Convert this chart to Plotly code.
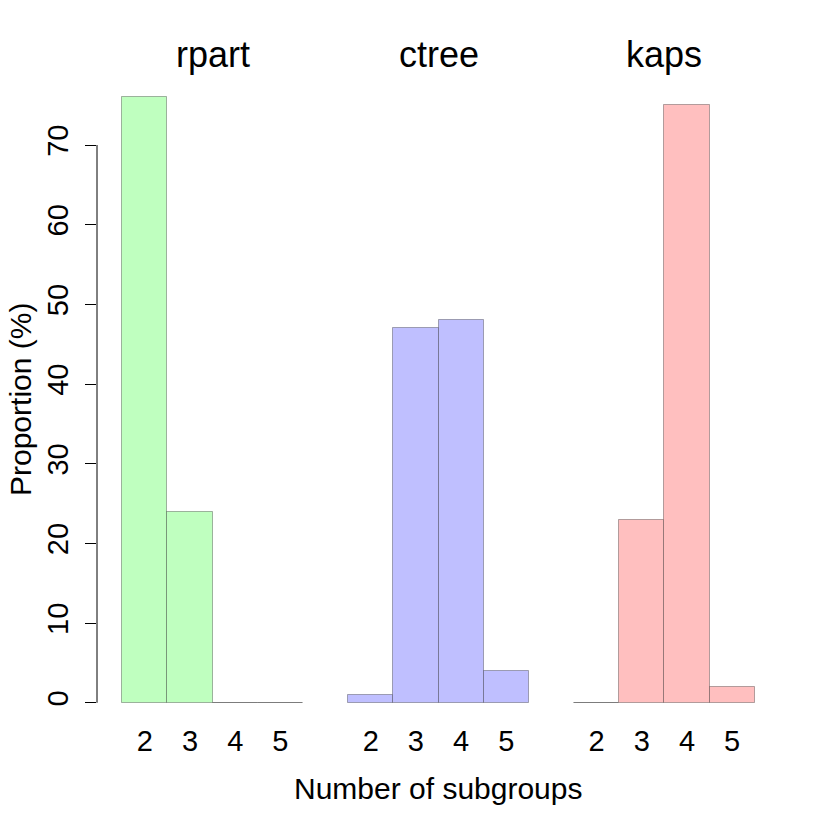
import plotly.graph_objects as go

methods = ["rpart", "ctree", "kaps"]
subgroups = ["2", "3", "4", "5"]
rpart = [76, 24, 0, 0]
ctree = [1, 47, 48, 4]
kaps = [0, 23, 75, 2]
fills = ["rgb(191,255,191)", "rgb(191,191,255)", "rgb(255,191,191)"]

# page body adds ~8px offset, so figure is a bit smaller than the window
W, H = 822, 822
L, R, T, B = 89, 50, 65, 103
FONT = "Liberation Sans, Arial, sans-serif"

fig = go.Figure()

tickvals, ticktext = [], []
for g, (name, vals) in enumerate(zip(methods, [rpart, ctree, kaps])):
    xs = [g * 5 + j + 0.5 for j in range(len(subgroups))]
    tickvals += xs
    ticktext += subgroups
    fig.add_trace(go.Bar(
        x=xs, y=vals, width=1,
        marker=dict(color=fills[g], line=dict(color="rgba(0,0,0,0.3)", width=1)),
        showlegend=False,
    ))
    fig.add_annotation(x=g * 5 + 2, y=1, xref="x", yref="paper", yshift=19,
                       text=name, showarrow=False, yanchor="middle",
                       font=dict(size=36, color="black"))

nb = 3 * 5 - 1
pad = 0.04 * nb
ymax = max(rpart + ctree + kaps)
ypad = 0.04 * ymax

fig.update_layout(
    width=W, height=H,
    margin=dict(l=L, r=R, t=T, b=B),
    plot_bgcolor="white", paper_bgcolor="white",
    font=dict(family=FONT, size=29, color="black"),
    bargap=0,
    xaxis=dict(range=[-pad, nb + pad], tickvals=tickvals, ticktext=ticktext,
               showgrid=False, zeroline=False, showline=False, ticks="",
               ticklabelstandoff=-6, tickfont=dict(size=29)),
    yaxis=dict(range=[-ypad, ymax + ypad], tickvals=list(range(0, 71, 10)),
               showgrid=False, zeroline=False, showline=False,
               ticks="outside", ticklen=11, tickcolor="black", tickwidth=1,
               tickangle=-90, ticklabelstandoff=5, tickfont=dict(size=29)),
)

# R-style y axis line spanning only the tick range
fig.add_shape(type="line", xref="paper", yref="y", x0=0, x1=0, y0=0, y1=70,
              line=dict(color="black", width=1))

fig.add_annotation(text="Proportion (%)", xref="paper", yref="paper",
                   x=(12 - L) / (W - L - R), y=0.5, textangle=-90,
                   showarrow=False, xanchor="center", yanchor="middle",
                   borderpad=0, font=dict(size=30))
fig.add_annotation(text="Number of subgroups", xref="paper", yref="paper",
                   x=(430 - L) / (W - L - R), y=0, yshift=-(780 - (H - B)),
                   showarrow=False, xanchor="center", yanchor="middle",
                   font=dict(size=30))

fig.write_html("out.html")
